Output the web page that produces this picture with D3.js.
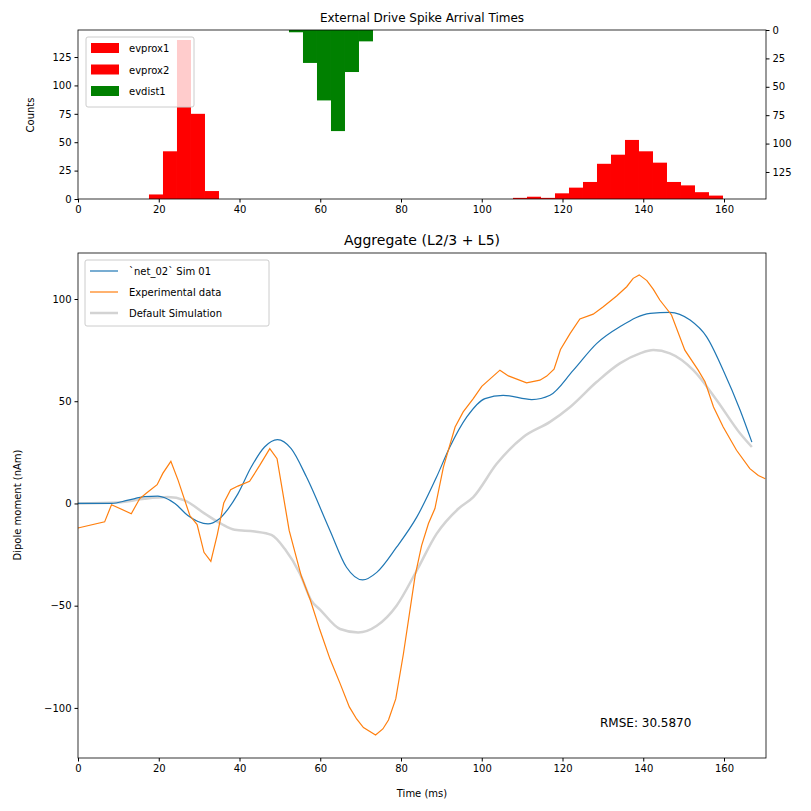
<!DOCTYPE html>
<html><head><meta charset="utf-8">
<script src="https://cdn.jsdelivr.net/npm/d3@7"></script>
<style>body{margin:0;background:#fff}text{font-family:"DejaVu Sans",sans-serif}</style>
</head><body><div id="chart"></div>
<script>
// histogram bins: common grid, counts per bin index
const binStart = 17.58, binWidth = 3.4675
const evprox1Idx = [0, 1, 2, 3, 4]
const evprox1Counts = [4, 42, 140, 75, 7]
const evdist1Idx = [10, 11, 12, 13, 14, 15]
const evdist1Counts = [2, 29, 62, 89, 37, 10]
const evprox2Idx = [26, 27, 28, 29, 30, 31, 32, 33, 34, 35, 36, 37, 38, 39, 40]
const evprox2Counts = [1, 2, 1, 5, 10, 15, 31, 39, 52, 42, 32, 15, 12, 6, 3]

// dipole traces [time, value]
const simT = [0,8.3,12.4,16.5,19.8,21.5,24,27.2,29.7,32.2,34.7,37.2,39.6,42.9,46.2,49.4,52.8,56.6,62.4,66.5,70.5,74,78.9,83.9,88.8,92.1,96.3,100.8,105.3,112.4,116.9,122.7,128.5,134.2,141.7,146.6,151.6,155.7,159.8,164,166.9]
const simV = [0,0,1.6,3.3,3.6,2.8,0,-5.9,-8.8,-10,-8,-2.6,4.7,17.8,27.6,31.2,26.8,12.9,-13.2,-31.2,-37.4,-33.7,-21.4,-6.7,12.9,27.6,42.3,51.3,52.9,50.8,52.9,65.2,78.3,86.4,93,93.5,89.7,81.5,65.2,45.6,30]
const expT = [0,6.6,8.3,13.2,15.3,16.9,19.6,21,23,24.8,27.7,29.5,31.2,32.9,34.5,36.1,37.8,39.6,42.5,45,47.5,49.3,52.3,55.3,57.5,59.9,62.4,64.9,67.2,69,70.7,73.7,75.5,76.9,78.7,80.6,83.5,85.1,86.8,88.4,90.5,93.4,95.4,97.9,100,104.5,106.6,111.1,114.4,116.1,117.9,119.5,121.9,124.3,127.6,130.1,133.4,135.9,137.5,139,140.9,142.5,144.1,147,150.3,153.6,155.3,157.4,159.8,163.1,166.4,168.5,170.2]
const expV = [-12,-9,-0.6,-5,2.4,5,9.2,14.7,20.6,11.3,-5.9,-10.3,-23.9,-28.3,-15.2,0.2,6.7,8.5,10.8,18.6,26.8,21.9,-13.2,-35.5,-47,-61.8,-76,-88,-99.5,-105.4,-109.6,-113.2,-110.3,-105.9,-95.6,-73.5,-35.3,-20.6,-9.8,-2.5,17.8,37.4,44.8,51.3,57.3,65.2,62.4,59,60.3,62.3,65.7,75.3,83.2,90.2,92.6,96.2,101.5,106,110.1,111.8,109,104.7,99.5,92.2,75,65.2,59.5,47.2,37.4,26,17,13.7,12.1]
const defT = [0,10,16.5,22.3,26.4,31.4,35.5,38.8,43.8,47.9,51.2,55,57.8,60,64.9,69.4,74,78.9,83.9,88.8,94.2,97.9,103.7,110.3,116.9,121.9,128.5,134.2,139.2,142.5,146.6,152.4,158.2,164,166.9]
const defV = [0,0.5,2.3,3.1,1.5,-5,-10,-12.9,-13.7,-15.4,-22.2,-34.5,-47.5,-52,-61.4,-63.1,-59.8,-50,-32.8,-14.9,-2.6,3.1,19.4,32.5,39.9,47.2,59.5,68.5,73.4,75,73.4,65.2,50.5,34.2,27.6]

const xTicks = [0, 20, 40, 60, 80, 100, 120, 140, 160]
const countTicks = [0, 25, 50, 75, 100, 125]
const dipoleTicks = [-100, -50, 0, 50, 100]
const rmse = 30.5870

const W = 811, H = 811
const L = 78, R = 766
const svg = d3.select('#chart').append('svg').attr('width', W).attr('height', H)
const minus = d => String(d).replace('-', '\u2212')

const x = d3.scaleLinear().domain([0, 170.4]).range([L, R])

// ---- top histogram ----
const yTop = d3.scaleLinear().domain([0, 148.8]).range([199, 30])
const yTopR = d3.scaleLinear().domain([0, 148.8]).range([30, 199])
const hist = (idx, counts) => idx.map((b, i) => ({x0: binStart + b * binWidth, c: counts[i]}))

svg.append('g').selectAll('rect').data(hist(evprox1Idx, evprox1Counts).concat(hist(evprox2Idx, evprox2Counts)))
  .join('rect')
  .attr('x', d => x(d.x0)).attr('width', x(binWidth) - x(0))
  .attr('y', d => yTop(d.c)).attr('height', d => yTop(0) - yTop(d.c))
  .attr('fill', 'red')
svg.append('g').selectAll('rect').data(hist(evdist1Idx, evdist1Counts))
  .join('rect')
  .attr('x', d => x(d.x0)).attr('width', x(binWidth) - x(0))
  .attr('y', yTopR(0)).attr('height', d => yTopR(d.c) - yTopR(0))
  .attr('fill', 'green')

const styleAxis = g => { g.selectAll('text').attr('font-size', 10).attr('fill', '#000'); g.select('.domain').remove() }
svg.append('g').attr('transform', 'translate(0,199)').call(d3.axisBottom(x).tickValues(xTicks).tickSize(3.5).tickPadding(3)).call(styleAxis)
svg.append('g').attr('transform', `translate(${L},0)`).call(d3.axisLeft(yTop).tickValues(countTicks).tickSize(3.5).tickPadding(3)).call(styleAxis)
svg.append('g').attr('transform', `translate(${R},0)`).call(d3.axisRight(yTopR).tickValues(countTicks).tickSize(3.5).tickPadding(3)).call(styleAxis)
svg.append('rect').attr('x', L).attr('y', 30).attr('width', R - L).attr('height', 169).attr('fill', 'none').attr('stroke', '#000').attr('stroke-width', 0.8)
svg.append('text').attr('x', (L + R) / 2).attr('y', 22).attr('text-anchor', 'middle').attr('font-size', 12).text('External Drive Spike Arrival Times')
svg.append('text').attr('transform', 'translate(34,115) rotate(-90)').attr('text-anchor', 'middle').attr('font-size', 10).text('Counts')

// top legend
const lg1 = svg.append('g').attr('transform', 'translate(86,37)')
lg1.append('rect').attr('width', 108).attr('height', 70).attr('rx', 2).attr('fill', 'white').attr('fill-opacity', 0.8).attr('stroke', '#ccc')
;[['evprox1', 'red'], ['evprox2', 'red'], ['evdist1', 'green']].forEach(([n, c], i) => {
  lg1.append('rect').attr('x', 5).attr('y', 6 + i * 21.5).attr('width', 28).attr('height', 10).attr('fill', c)
  lg1.append('text').attr('x', 43).attr('y', 15 + i * 21.5).attr('font-size', 10).text(n)
})

// ---- bottom dipole plot ----
const yB = d3.scaleLinear().domain([-124.5, 122.5]).range([758, 253])
svg.append('text').attr('x', (L + R) / 2).attr('y', 245).attr('text-anchor', 'middle').attr('font-size', 14).text('Aggregate (L2/3 + L5)')
const zip = (t, v) => t.map((d, i) => [d, v[i]])
const smooth = d3.line().x(d => x(d[0])).y(d => yB(d[1])).curve(d3.curveMonotoneX)
const lin = d3.line().x(d => x(d[0])).y(d => yB(d[1]))
svg.append('path').attr('d', smooth(zip(defT, defV))).attr('fill', 'none').attr('stroke', 'lightgrey').attr('stroke-width', 2.5)
svg.append('path').attr('d', smooth(zip(simT, simV))).attr('fill', 'none').attr('stroke', '#1f77b4').attr('stroke-width', 1.2)
svg.append('path').attr('d', lin(zip(expT, expV))).attr('fill', 'none').attr('stroke', '#ff7f0e').attr('stroke-width', 1.2)

svg.append('g').attr('transform', 'translate(0,758)').call(d3.axisBottom(x).tickValues(xTicks).tickSize(3.5).tickPadding(3)).call(styleAxis)
svg.append('g').attr('transform', `translate(${L},0)`).call(d3.axisLeft(yB).tickValues(dipoleTicks).tickFormat(minus).tickSize(3.5).tickPadding(3)).call(styleAxis)
svg.append('rect').attr('x', L).attr('y', 253).attr('width', R - L).attr('height', 505).attr('fill', 'none').attr('stroke', '#000').attr('stroke-width', 0.8)
svg.append('text').attr('x', (L + R) / 2).attr('y', 797).attr('text-anchor', 'middle').attr('font-size', 10).text('Time (ms)')
svg.append('text').attr('transform', 'translate(21,505) rotate(-90)').attr('text-anchor', 'middle').attr('font-size', 10).text('Dipole moment (nAm)')
svg.append('text').attr('x', 600).attr('y', 727).attr('font-size', 12).text('RMSE: ' + rmse.toFixed(4))

const lg2 = svg.append('g').attr('transform', 'translate(85,260)')
lg2.append('rect').attr('width', 184).attr('height', 66).attr('rx', 2).attr('fill', 'white').attr('fill-opacity', 0.8).attr('stroke', '#ccc')
;[['`net_02` Sim 01', '#1f77b4', 1.2], ['Experimental data', '#ff7f0e', 1.2], ['Default Simulation', 'lightgrey', 2.5]].forEach(([n, c, w], i) => {
  lg2.append('line').attr('x1', 5).attr('x2', 33).attr('y1', 11 + i * 21).attr('y2', 11 + i * 21).attr('stroke', c).attr('stroke-width', w)
  lg2.append('text').attr('x', 44).attr('y', 15 + i * 21).attr('font-size', 10).text(n)
})
</script></body></html>
